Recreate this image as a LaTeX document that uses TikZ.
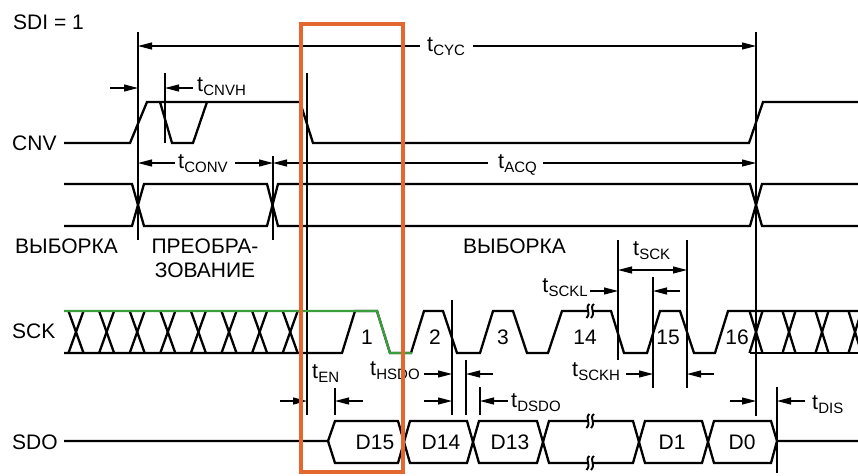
\documentclass[tikz,border=0pt]{standalone}
\usepackage{fontspec}
\setmainfont{Liberation Sans}
\usetikzlibrary{arrows.meta}
\definecolor{boxorange}{HTML}{E4672E}
\definecolor{sckgreen}{HTML}{3A9E3F}
\newcommand\tsub[1]{{\fontsize{21.5}{24}\selectfont t}\kern0.2pt\raisebox{-4pt}{\fontsize{15}{15}\selectfont #1}}
\tikzset{
  sig/.style={line width=2.3pt, line join=miter},
  dim/.style={line width=1.2pt},
  arr/.style={dim, -{Triangle[length=14pt,width=7pt]}},
  darr/.style={dim, {Triangle[length=14pt,width=7pt]}-{Triangle[length=14pt,width=7pt]}},
  lbl/.style={inner sep=0pt, anchor=base west},
  lblr/.style={inner sep=0pt, anchor=base east},
  txt/.style={inner sep=0pt, anchor=base west},
  num/.style={inner sep=0pt},
  brk/.pic={
    \fill[white] (-2,-4) rectangle (2,4);
    \draw[line width=1.9pt] (-0.5,-7) .. controls (-6,-3) and (2,1) .. (-3.5,7);
    \draw[line width=1.9pt] (4,-7) .. controls (-1.5,-3) and (6.5,1) .. (1,7);
  }
}
\begin{document}
\begin{tikzpicture}[x=1pt,y=-1pt,font=\fontsize{21}{24}\selectfont]
\useasboundingbox (0,0) rectangle (858,475);

% row labels
\node[txt] (sdi) at (13,29) {SDI = 1};
\node[txt] (cnv) at (12,150.5) {CNV};
\node[txt] (sck) at (12,338) {SCK};
\node[txt] (sdo) at (12,449) {SDO};
\node[txt] (vyb1) at (15,253) {ВЫБОРКА};
\node[inner sep=0pt, anchor=base] (preo1) at (205,253) {ПРЕОБРА-};
\node[inner sep=0pt, anchor=base] (preo2) at (205,277) {ЗОВАНИЕ};
\node[txt] (vyb2) at (463,253) {ВЫБОРКА};

% reference verticals
\coordinate (v1t) at (138,32);  \coordinate (v1b) at (138,240);
\coordinate (v2t) at (756,32);  \coordinate (v2b) at (756,416);
\coordinate (v3t) at (307,73);  \coordinate (v3b) at (307,415);
\coordinate (v4t) at (165,73);  \coordinate (v4b) at (165,143);
\coordinate (v5t) at (273,156); \coordinate (v5b) at (273,240);
\coordinate (v6t) at (335,388); \coordinate (v6b) at (335,415);
\coordinate (v7t) at (452,300); \coordinate (v7b) at (452,415);
\coordinate (v8t) at (466,360); \coordinate (v8b) at (466,415);
\coordinate (v9t) at (480,387); \coordinate (v9b) at (480,415);
\coordinate (v10t) at (618,240); \coordinate (v10b) at (618,360);
\coordinate (v11t) at (653,277); \coordinate (v11b) at (653,388);
\coordinate (v12t) at (687,240); \coordinate (v12b) at (687,388);
\coordinate (v13t) at (777,387); \coordinate (v13b) at (777,473);
\foreach \i in {1,...,13} \draw[dim] (v\i t) -- (v\i b);

% CNV
\draw[sig] (64,143) -- (130,143) -- (147,102) -- (300,102) -- (313,143) -- (749,143) -- (763,102) -- (858,102);
\draw[sig] (160,102) -- (172,143) -- (193,143) -- (207,102);

% second bus row
\draw[sig] (64,184) -- (132,184) -- (144,226) -- (267,226) -- (278,184) -- (750,184) -- (762,226) -- (858,226);
\draw[sig] (64,226) -- (132,226) -- (144,184) -- (267,184) -- (278,226) -- (750,226) -- (762,184) -- (858,184);

% SCK
\draw[sig] (64,311) -- (298,311);
\draw[sig] (64,353) -- (342,353) -- (355,311) -- (377,311) -- (390,353) -- (411,353) -- (424,311) -- (443,311) -- (457,353) -- (480,353) -- (493,311) -- (513,311) -- (527,353) -- (548,353) -- (562,311) -- (611,311) -- (624,353) -- (647,353) -- (660,311) -- (680,311) -- (694,353) -- (715,353) -- (728,311) -- (858,311);
\draw[sig] (750,353) -- (858,353);
\foreach \k in {0,...,7} {
  \pgfmathsetmacro\c{76+30.6*\k}
  \draw[sig] (\c-7.5,311) -- (\c+7.5,353);
  \draw[sig] (\c-7.5,353) -- (\c+7.5,311);
}
\foreach \c in {756,789,822,855} {
  \draw[sig] (\c-6.5,311) -- (\c+6.5,353);
  \draw[sig] (\c-6.5,353) -- (\c+6.5,311);
}
\draw[sig, sckgreen] (64,311) -- (377,311) -- (390,353) -- (412,353);
\pic at (590,311) {brk};
\node[num] (n1) at (367,337) {1};
\node[num] (n2) at (435,337) {2};
\node[num] (n3) at (503,337) {3};
\node[num] (n14) at (585,337) {14};
\node[num] (n15) at (668,337) {15};
\node[num] (n16) at (737,337) {16};

% SDO
\draw[sig] (64,441) -- (328,441) -- (335,421) -- (398,421) -- (410,463) -- (467,463) -- (479,421) -- (537,421) -- (549,463) -- (633,463) -- (645,421) -- (702,421) -- (714,463) -- (771,463) -- (777,441) -- (858,441);
\draw[sig] (328,441) -- (335,463) -- (398,463) -- (410,421) -- (467,421) -- (479,463) -- (537,463) -- (549,421) -- (633,421) -- (645,463) -- (702,463) -- (714,421) -- (771,421) -- (777,441);
\pic at (590,421) {brk};
\pic at (590,463) {brk};
\node[num] (d15) at (375,442) {D15};
\node[num] (d14) at (441,442) {D14};
\node[num] (d13) at (510,442) {D13};
\node[num] (d1) at (672,442) {D1};
\node[num] (d0) at (742,442) {D0};

% timing annotations
\node[lbl] (tcyc) at (427,51) {\tsub{CYC}};
\draw[arr] (420,46) -- (v1t |- 0,46);
\draw[arr] (473,46) -- (v2t |- 0,46);

\node[lbl] (tcnvh) at (197,91) {\tsub{CNVH}};
\draw[arr] (110,88) -- (138,88);
\draw[arr] (193,88) -- (165,88);

\node[lbl] (tconv) at (178,168) {\tsub{CONV}};
\draw[arr] (175,163) -- (138,163);
\draw[arr] (235,163) -- (273,163);

\node[lbl] (tacq) at (498,168) {\tsub{ACQ}};
\draw[arr] (488,163) -- (273,163);
\draw[arr] (543,163) -- (756,163);

\node[lbl] (ten) at (312,378) {\tsub{EN}};
\draw[arr] (280,401) -- (307,401);
\draw[arr] (363,401) -- (335,401);

\node[lbl] (thsdo) at (370,375) {\tsub{HSDO}};
\draw[arr] (424,374) -- (452,374);
\draw[arr] (493,374) -- (466,374);
\draw[arr] (424,401) -- (452,401);

\node[lbl] (tdsdo) at (511,407) {\tsub{DSDO}};
\draw[arr] (508,401) -- (480,401);

\node[lbl] (tsck) at (633,255) {\tsub{SCK}};
\draw[darr] (618,270) -- (687,270);

\node[lblr] (tsckl) at (588,292) {\tsub{SCKL}};
\draw[arr] (590,291) -- (618,291);
\draw[arr] (680,291) -- (653,291);

\node[lbl] (tsckh) at (572,376) {\tsub{SCKH}};
\draw[arr] (626,374) -- (653,374);
\draw[arr] (714,374) -- (687,374);

\node[lbl] (tdis) at (812,409) {\tsub{DIS}};
\draw[arr] (730,401) -- (756,401);
\draw[arr] (805,401) -- (777,401);

% highlight box
\draw[boxorange, line width=4.5pt] (301,24) rectangle (403,472);
\end{tikzpicture}
\end{document}
